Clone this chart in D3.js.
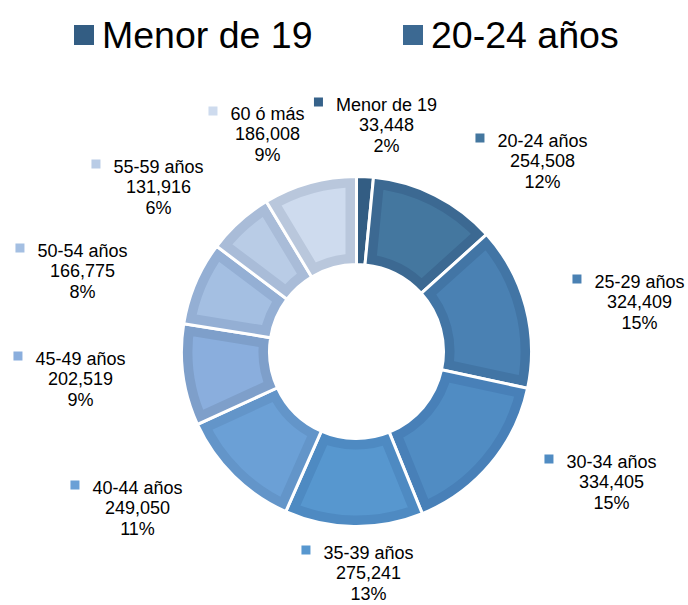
<!DOCTYPE html>
<html>
<head>
<meta charset="utf-8">
<script src="https://cdn.jsdelivr.net/npm/d3@7"></script>
<style>
  html, body { margin: 0; padding: 0; background: #fff; }
  svg { display: block; font-family: "Liberation Sans", Arial, sans-serif; }
</style>
</head>
<body>
<svg id="chart" width="688" height="605"></svg>
<script>
// ---- data ----
const categories = ["Menor de 19", "20-24 años", "25-29 años", "30-34 años", "35-39 años",
                    "40-44 años", "45-49 años", "50-54 años", "55-59 años", "60 ó más"];
const values = [33448, 254508, 324409, 334405, 275241, 249050, 202519, 166775, 131916, 186008];
const valueLabels = ["33,448", "254,508", "324,409", "334,405", "275,241",
                     "249,050", "202,519", "166,775", "131,916", "186,008"];
const percentLabels = ["2%", "12%", "15%", "15%", "13%", "11%", "9%", "8%", "6%", "9%"];
const legendCategories = ["Menor de 19", "20-24 años"];

// ---- styles ----
const fillColors = ["#36628a", "#44779f", "#4a81b3", "#508cc3", "#5797cf",
                    "#6ba0d6", "#8aaedd", "#a4bfe2", "#b9cce6", "#cedbee"];
const bandColors = ["#335d83", "#3c6992", "#4275a5", "#4880b8", "#4e8ac2",
                    "#6395c9", "#7e9fca", "#94afd4", "#a9bcd8", "#b9c7dc"];

// ---- layout ----
const W = 688, H = 605;
const cx = 356.5, cy = 351.5;
const rOuter = 175, rInner = 87;
// label anchors (text centre x, first-line baseline y) relative to donut centre
const labelOffsets = [[30, -241], [186, -205], [283, -64], [255, 116], [12, 207],
                      [-219, 142], [-276, 13], [-274, -95], [-198, -179], [-89, -232]];

const svg = d3.select("#chart");

const pie = d3.pie().sort(null).value(d => d)(values);
const arc = d3.arc().innerRadius(rInner).outerRadius(rOuter);

const g = svg.append("g").attr("transform", `translate(${cx},${cy})`);
const defs = svg.append("defs");

pie.forEach((p, i) => {
  defs.append("clipPath").attr("id", "clip" + i)
    .append("path").attr("d", arc(p));
});

const slices = g.selectAll("g.slice").data(pie).join("g").attr("class", "slice");
slices.append("path")
  .attr("d", d => arc(d))
  .attr("fill", (d, i) => fillColors[i])
  .attr("stroke", (d, i) => bandColors[i])
  .attr("stroke-width", 22)
  .attr("clip-path", (d, i) => `url(#clip${i})`);
slices.append("path")
  .attr("d", d => arc(d))
  .attr("fill", "none")
  .attr("stroke", "#ffffff")
  .attr("stroke-width", 3)
  .attr("stroke-linejoin", "miter");

// ---- data labels ----
const fs = 18, lh = 20.5;
const labels = svg.append("g").selectAll("g.lbl").data(pie).join("g").attr("class", "lbl")
  .attr("transform", (d, i) => `translate(${cx + labelOffsets[i][0]},${cy + labelOffsets[i][1]})`);

labels.each(function(d, i) {
  const sel = d3.select(this);
  const t1 = sel.append("text").attr("text-anchor", "middle").attr("font-size", fs)
    .attr("fill", "#000").text(categories[i]);
  const w = t1.node().getComputedTextLength();
  sel.append("rect").attr("x", -w / 2 - 22).attr("y", -13).attr("width", 9).attr("height", 9)
    .attr("fill", fillColors[i]);
  sel.append("text").attr("text-anchor", "middle").attr("font-size", fs).attr("y", lh)
    .attr("fill", "#000").text(valueLabels[i]);
  sel.append("text").attr("text-anchor", "middle").attr("font-size", fs).attr("y", 2 * lh)
    .attr("fill", "#000").text(percentLabels[i]);
});

// ---- legend (cropped, top) ----
const legendX = [74, 403];
const leg = svg.append("g").selectAll("g").data(legendCategories).join("g")
  .attr("transform", (d, i) => `translate(${legendX[i]},0)`);
leg.append("rect").attr("x", 0).attr("y", 25).attr("width", 20).attr("height", 20)
  .attr("fill", (d, i) => bandColors[i]);
leg.append("text").attr("x", 28).attr("y", 48).attr("font-size", 37.5).attr("fill", "#000")
  .text(d => d);
</script>
</body>
</html>
